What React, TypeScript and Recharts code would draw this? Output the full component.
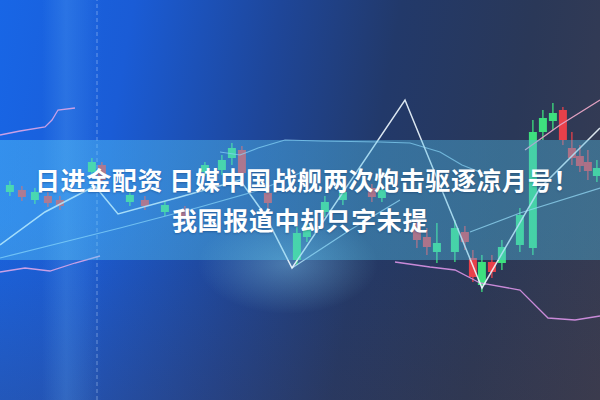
import { Bar, ComposedChart, Line, ReferenceLine, XAxis, YAxis } from "recharts";

type Candle = { t: number; open: number; close: number; high: number; low: number };
type Pt = { t: number; p: number };

// candles (t = time slot, prices on a 0..400 scale)
const candles: Candle[] = [
  { t: 10, open: 208, close: 215, high: 219, low: 204 },
  { t: 22, open: 210, close: 203, high: 214, low: 199 },
  { t: 35, open: 200, close: 208, high: 212, low: 196 },
  { t: 48, open: 204, close: 197, high: 208, low: 193 },
  { t: 60, open: 200, close: 194, high: 204, low: 190 },
  { t: 92, open: 228, close: 238, high: 242, low: 224 },
  { t: 102, open: 235, close: 220, high: 238, low: 216 },
  { t: 130, open: 198, close: 205, high: 209, low: 194 },
  { t: 145, open: 200, close: 194, high: 204, low: 190 },
  { t: 165, open: 188, close: 195, high: 199, low: 184 },
  { t: 185, open: 190, close: 182, high: 194, low: 178 },
  { t: 205, open: 228, close: 235, high: 238, low: 224 },
  { t: 222, open: 230, close: 240, high: 245, low: 225 },
  { t: 232, open: 242, close: 252, high: 257, low: 235 },
  { t: 242, open: 250, close: 227, high: 254, low: 222 },
  { t: 268, open: 207, close: 197, high: 212, low: 192 },
  { t: 297, open: 140, close: 167, high: 173, low: 135 },
  { t: 307, open: 163, close: 173, high: 178, low: 158 },
  { t: 325, open: 188, close: 198, high: 204, low: 183 },
  { t: 343, open: 200, close: 208, high: 213, low: 195 },
  { t: 372, open: 212, close: 203, high: 216, low: 198 },
  { t: 382, open: 202, close: 210, high: 214, low: 198 },
  { t: 417, open: 177, close: 160, high: 185, low: 152 },
  { t: 427, open: 163, close: 153, high: 172, low: 145 },
  { t: 437, open: 148, close: 157, high: 177, low: 137 },
  { t: 455, open: 148, close: 172, high: 180, low: 138 },
  { t: 465, open: 168, close: 158, high: 174, low: 150 },
  { t: 473, open: 142, close: 123, high: 150, low: 118 },
  { t: 482, open: 115, close: 138, high: 145, low: 108 },
  { t: 492, open: 138, close: 128, high: 145, low: 122 },
  { t: 502, open: 137, close: 153, high: 160, low: 130 },
  { t: 520, open: 155, close: 185, high: 192, low: 148 },
  { t: 533, open: 152, close: 268, high: 280, low: 145 },
  { t: 543, open: 268, close: 282, high: 290, low: 260 },
  { t: 553, open: 279, close: 287, high: 297, low: 270 },
  { t: 563, open: 290, close: 260, high: 293, low: 255 },
  { t: 572, open: 252, close: 242, high: 268, low: 235 },
  { t: 580, open: 244, close: 234, high: 255, low: 228 },
  { t: 588, open: 238, close: 229, high: 250, low: 220 },
  { t: 597, open: 224, close: 232, high: 240, low: 218 },
];

const zigzag: Pt[] = [
  { t: 0, p: 155 }, { t: 45, p: 188 }, { t: 95, p: 214 }, { t: 118, p: 186 },
  { t: 180, p: 203 }, { t: 240, p: 220 }, { t: 265, p: 185 }, { t: 292, p: 132 },
  { t: 405, p: 300 }, { t: 482, p: 112 }, { t: 540, p: 212 }, { t: 600, p: 272 },
];

const pinkTop: Pt[] = [
  { t: 0, p: 265 }, { t: 20, p: 269 }, { t: 45, p: 273 }, { t: 52, p: 280 },
  { t: 58, p: 290 }, { t: 75, p: 292 },
];
const pinkLow: Pt[] = [
  { t: 0, p: 128 }, { t: 25, p: 132 }, { t: 50, p: 129 }, { t: 75, p: 137 }, { t: 100, p: 144 },
];
const pinkRight: Pt[] = [
  { t: 395, p: 138 }, { t: 430, p: 133 }, { t: 455, p: 130 }, { t: 480, p: 117 },
  { t: 520, p: 110 }, { t: 548, p: 82 }, { t: 575, p: 80 }, { t: 600, p: 84 },
];
const pinkUpper: Pt[] = [{ t: 525, p: 250 }, { t: 560, p: 275 }, { t: 600, p: 300 }];

const cyanLeft: Pt[] = [
  { t: 0, p: 142 }, { t: 60, p: 157 }, { t: 120, p: 172 }, { t: 200, p: 193 },
  { t: 260, p: 210 }, { t: 300, p: 227 },
];
const cyanMid: Pt[] = [
  { t: 220, p: 248 }, { t: 240, p: 245 }, { t: 258, p: 252 }, { t: 285, p: 260 },
  { t: 320, p: 259 }, { t: 380, p: 258 }, { t: 410, p: 257 }, { t: 440, p: 248 },
  { t: 462, p: 235 }, { t: 490, p: 224 },
];
const cyanV: Pt[] = [{ t: 292, p: 132 }, { t: 350, p: 170 }, { t: 400, p: 200 }];
const cyanRight: Pt[] = [{ t: 470, p: 168 }, { t: 520, p: 187 }, { t: 600, p: 212 }];

const BODY_W = 8;

function CandleShape(props: any) {
  const { x, y, width, height, payload } = props;
  const { open, close, high, low } = payload;
  const top = Math.min(y, y + height);
  const h = Math.abs(height);
  const k = h / (high - low || 1);
  const up = close >= open;
  const color = up ? "#3ee07e" : "#e8404a";
  const bodyTop = top + (high - Math.max(open, close)) * k;
  const bodyH = Math.max(1, Math.abs(close - open) * k);
  const cx = x + width / 2;
  return (
    <g>
      <line x1={cx} x2={cx} y1={top} y2={top + h} stroke={color} strokeWidth={1.3} />
      <rect x={cx - BODY_W / 2} y={bodyTop} width={BODY_W} height={bodyH} fill={color} />
    </g>
  );
}

const lineProps = { dataKey: "p", dot: false, activeDot: false, isAnimationActive: false, type: "linear" as const };

const textStyle = {
  position: "absolute" as const,
  whiteSpace: "pre" as const,
  color: "#fff",
  fontFamily: '"Noto Sans CJK SC", sans-serif',
  fontWeight: 700,
  fontSize: 25,
  lineHeight: "25px",
  letterSpacing: 0.6,
  textShadow: "0 1px 2px rgba(0,30,80,0.3)",
};

export default function App() {
  return (
    <div
      style={{
        position: "absolute",
        left: 0,
        top: 0,
        width: 600,
        height: 400,
        overflow: "hidden",
        background: [
          "radial-gradient(ellipse 90px 50px at 48% 66%, rgba(150,230,255,0.35), rgba(150,230,255,0))",
          "linear-gradient(to right, rgba(0,0,0,0) 7%, rgba(120,200,255,0.18) 11%, rgba(0,0,0,0) 17%)",
          "linear-gradient(to bottom, rgba(0,0,0,0) 55%, rgba(70,55,60,0.22) 100%)",
          "linear-gradient(100deg, #1866e6 0%, #1a5cd6 20%, #1e4699 42%, #22396a 60%, #2a3858 80%, #383c52 100%)",
        ].join(", "),
      }}
    >
      <ComposedChart width={600} height={400} data={candles} margin={{ top: 0, right: 0, bottom: 0, left: 0 }}>
        <XAxis type="number" dataKey="t" domain={[0, 600]} allowDataOverflow hide />
        <YAxis type="number" domain={[0, 400]} allowDataOverflow hide />
        <ReferenceLine x={97} stroke="rgba(200,225,255,0.45)" strokeDasharray="4 3" />
        <Line {...lineProps} data={cyanLeft} stroke="rgba(170,225,255,0.7)" strokeWidth={1.2} />
        <Line {...lineProps} data={cyanMid} stroke="rgba(170,225,255,0.7)" strokeWidth={1.2} />
        <Line {...lineProps} data={cyanV} stroke="rgba(190,235,255,0.75)" strokeWidth={1.2} />
        <Line {...lineProps} data={cyanRight} stroke="rgba(190,235,255,0.75)" strokeWidth={1.2} />
        <Line {...lineProps} data={pinkTop} stroke="#c9a0e6" strokeWidth={1.3} />
        <Line {...lineProps} data={pinkLow} stroke="#c9a0e6" strokeWidth={1.3} />
        <Line {...lineProps} data={pinkRight} stroke="#c98ad8" strokeWidth={1.3} />
        <Line {...lineProps} data={pinkUpper} stroke="#e0a0c0" strokeWidth={1.3} />
        <Bar dataKey={(d: Candle) => [d.low, d.high]} barSize={8} shape={CandleShape} isAnimationActive={false} />
        <Line {...lineProps} data={zigzag} stroke="rgba(240,250,255,0.9)" strokeWidth={1.5} />
      </ComposedChart>
      <div
        style={{
          position: "absolute",
          left: 0,
          top: 140,
          width: 600,
          height: 120,
          background: "linear-gradient(to right, rgba(90,205,250,0.42), rgba(80,185,225,0.4))",
        }}
      />
      <div style={{ ...textStyle, top: 167, left: 35 }}>日进金配资 日媒中国战舰两次炮击驱逐凉月号！</div>
      <div style={{ ...textStyle, top: 207, left: 172 }}>我国报道中却只字未提</div>
    </div>
  );
}
